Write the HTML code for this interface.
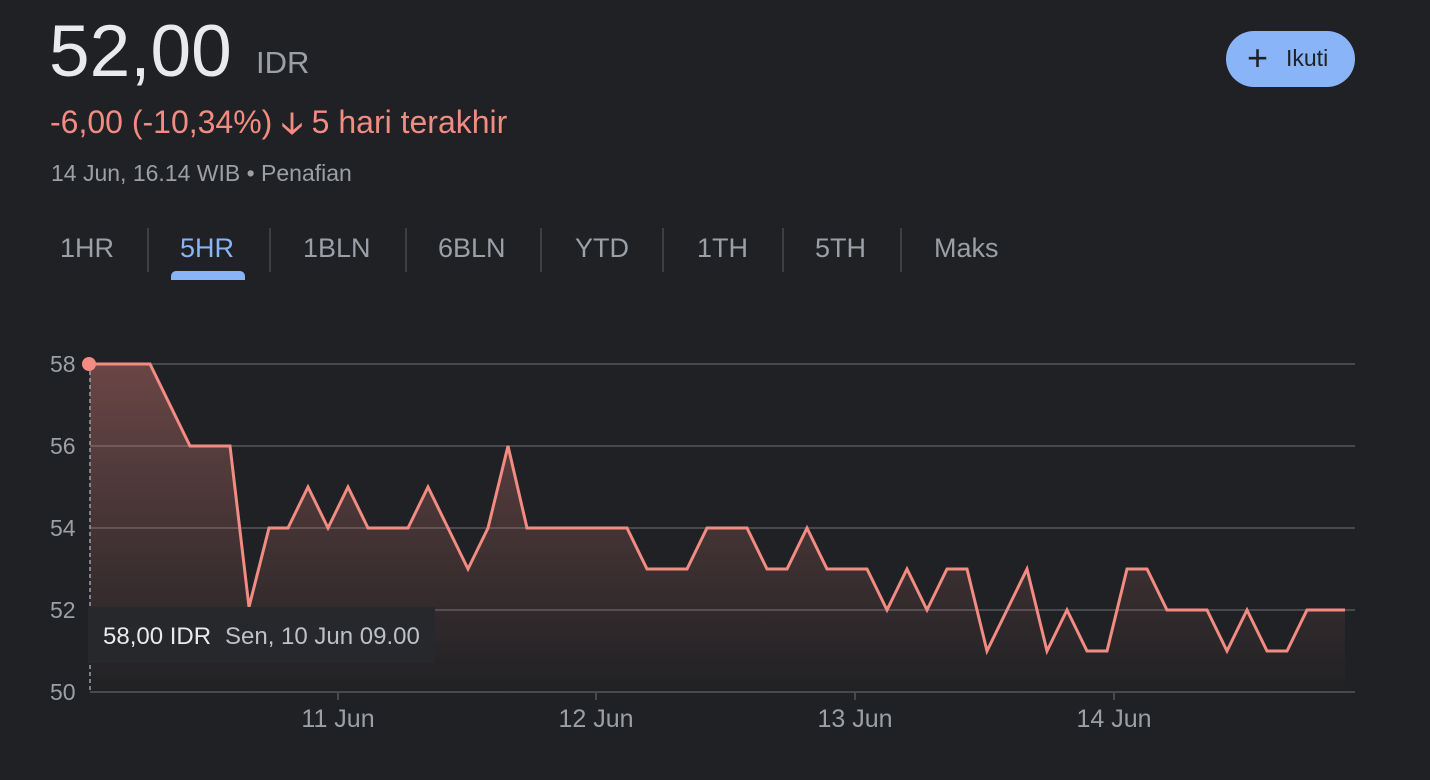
<!DOCTYPE html>
<html><head><meta charset="utf-8"><style>
body{margin:0;width:1430px;height:780px;background:#202124;font-family:"Liberation Sans",Arial,sans-serif;overflow:hidden;position:relative}
.a{position:absolute;white-space:nowrap}
</style></head><body>
<div class="a" style="left:49px;top:10px;font-size:73px;color:#e8eaed;line-height:84px">52,00</div>
<div class="a" style="left:256px;top:45px;font-size:31px;color:#9aa0a6">IDR</div>
<div class="a" style="left:50px;top:101px;font-size:32px;color:#f28b82">-6,00 (-10,34%) <span style="font-size:30px;font-weight:bold">🡣</span> 5 hari terakhir</div>
<div class="a" style="left:51px;top:160px;font-size:23px;color:#9aa0a6">14 Jun, 16.14 WIB • Penafian</div>
<div class="a" style="left:1226px;top:31px;width:129px;height:56px;border-radius:28px;background:#8ab4f8"></div>
<div class="a" style="left:1247px;top:39px;font-size:36px;color:#202124;line-height:38px">+</div>
<div class="a" style="left:1286px;top:45px;font-size:23px;color:#202124">Ikuti</div>
<div class="a" style="top:233px;left:0;font-size:27px;color:#9aa0a6">
<span class="a" style="left:60px">1HR</span>
<span class="a" style="left:180px;color:#8ab4f8">5HR</span>
<span class="a" style="left:303px">1BLN</span>
<span class="a" style="left:438px">6BLN</span>
<span class="a" style="left:575px">YTD</span>
<span class="a" style="left:697px">1TH</span>
<span class="a" style="left:815px">5TH</span>
<span class="a" style="left:934px">Maks</span>
</div>
<div class="a" style="left:171px;top:271px;width:74px;height:9px;border-radius:5px 5px 0 0;background:#8ab4f8"></div>
<svg class="a" style="left:0;top:0" width="1430" height="780">
<g stroke="#3c4043" stroke-width="2">
<line x1="148" y1="228" x2="148" y2="272"/><line x1="270" y1="228" x2="270" y2="272"/><line x1="406" y1="228" x2="406" y2="272"/><line x1="541" y1="228" x2="541" y2="272"/><line x1="663" y1="228" x2="663" y2="272"/><line x1="783" y1="228" x2="783" y2="272"/><line x1="901" y1="228" x2="901" y2="272"/>
</g>
<defs><linearGradient id="g" x1="0" y1="0" x2="0" y2="1"><stop offset="0" stop-color="#f28b82" stop-opacity="0.35"/><stop offset="1" stop-color="#f28b82" stop-opacity="0"/></linearGradient></defs>
<g stroke="#47494d" stroke-width="2">
<line x1="90" y1="364" x2="1355" y2="364"/><line x1="90" y1="446" x2="1355" y2="446"/><line x1="90" y1="528" x2="1355" y2="528"/><line x1="90" y1="610" x2="1355" y2="610"/><line x1="90" y1="692" x2="1355" y2="692"/>
<line x1="338" y1="692" x2="338" y2="700"/><line x1="596" y1="692" x2="596" y2="700"/><line x1="855" y1="692" x2="855" y2="700"/><line x1="1114" y1="692" x2="1114" y2="700"/>
</g>
<g font-size="23" fill="#9aa0a6" font-family="Liberation Sans,sans-serif">
<text x="50" y="372">58</text><text x="50" y="454">56</text><text x="50" y="536">54</text><text x="50" y="618">52</text><text x="50" y="700">50</text>
<g font-size="25"><text x="338" y="727" text-anchor="middle">11 Jun</text><text x="596" y="727" text-anchor="middle">12 Jun</text><text x="855" y="727" text-anchor="middle">13 Jun</text><text x="1114" y="727" text-anchor="middle">14 Jun</text></g>
</g>
<path fill="url(#g)" d="M90,364 L150,364 190,446 230,446 249,607 269,528 288,528 308,487 328,528 348,487 368,528 408,528 428,487 468,569 488,528 508,446 527,528 627,528 647,569 687,569 707,528 747,528 767,569 787,569 807,528 827,569 867,569 887,610 907,569 927,610 947,569 967,569 987,651 1027,569 1047,651 1067,610 1087,651 1107,651 1127,569 1147,569 1167,610 1207,610 1227,651 1247,610 1267,651 1287,651 1307,610 1345,610 L1345,692 L90,692Z"/>
<line x1="90" y1="364" x2="90" y2="692" stroke="#9aa0a6" stroke-width="1.5" stroke-dasharray="4,3"/>
<path fill="none" stroke="#f28b82" stroke-width="3" stroke-linejoin="miter" d="M90,364 L150,364 190,446 230,446 249,607 269,528 288,528 308,487 328,528 348,487 368,528 408,528 428,487 468,569 488,528 508,446 527,528 627,528 647,569 687,569 707,528 747,528 767,569 787,569 807,528 827,569 867,569 887,610 907,569 927,610 947,569 967,569 987,651 1027,569 1047,651 1067,610 1087,651 1107,651 1127,569 1147,569 1167,610 1207,610 1227,651 1247,610 1267,651 1287,651 1307,610 1345,610"/>
<circle cx="89" cy="364" r="7" fill="#f28b82"/>
<rect x="88" y="607" width="347" height="56" fill="#26282c"/>
<text x="103" y="644" font-size="24" fill="#e8eaed" font-family="Liberation Sans,sans-serif">58,00 IDR</text>
<text x="225" y="644" font-size="24" fill="#bdc1c6" font-family="Liberation Sans,sans-serif">Sen, 10 Jun 09.00</text>
</svg>
</body></html>
